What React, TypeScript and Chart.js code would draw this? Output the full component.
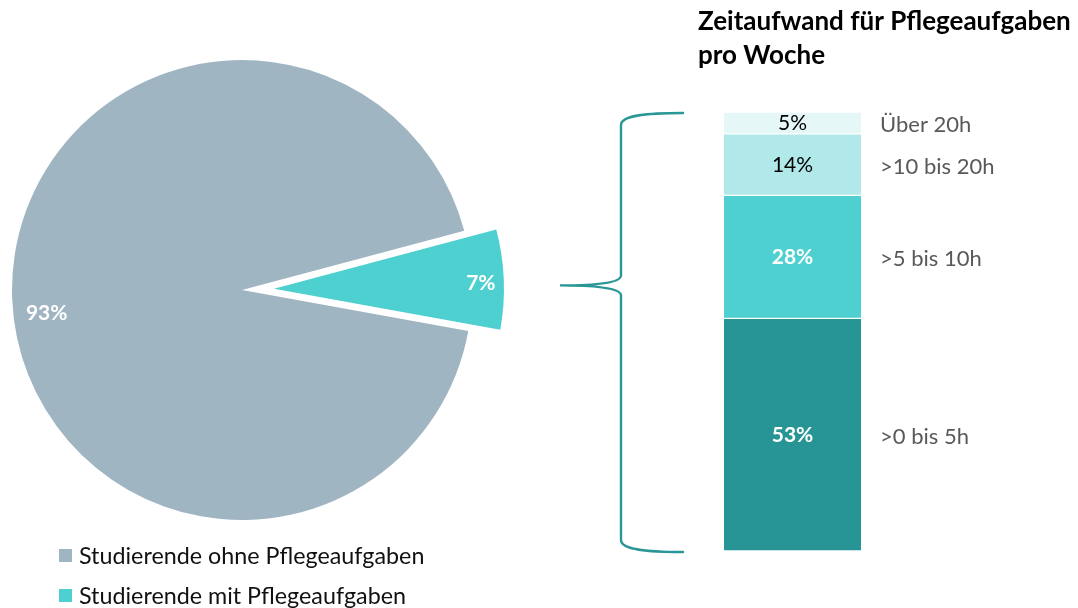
import React, { useEffect, useRef } from "react";
import { Chart, registerables } from "chart.js";

Chart.register(...registerables);

// ---------- data ----------
const pieLabels = ["Studierende ohne Pflegeaufgaben", "Studierende mit Pflegeaufgaben"];
const pieValues = [93, 7];
const pieValueLabels = ["93%", "7%"];
const pieColors = ["#A0B5C2", "#4ECFD0"];
const pieExplode = [0, 32];
const pieSmallSliceMidDeg = -2.3; // direction of the exploded slice (0 = 3 o'clock)

const barCategories = [">0 bis 5h", ">5 bis 10h", ">10 bis 20h", "Über 20h"];
const barValues = [53, 28, 14, 5];
const barValueLabels = ["53%", "28%", "14%", "5%"];
const barColors = ["#279495", "#4ECFD0", "#B1E8EA", "#E6F7F7"];
const barLabelColors = ["#FFFFFF", "#FFFFFF", "#000000", "#000000"];
const barLabelBold = [true, true, false, false];

const titleLines = ["Zeitaufwand für Pflegeaufgaben", "pro Woche"];

const FONT = "Lato, 'Open Sans', sans-serif";
const BRACE_COLOR = "#2A9696";
const CAT_COLOR = "#595959";

// ---------- plugins ----------
// pulls slices outward by a fixed distance (keeps the slice radius unchanged)
const explodePlugin = {
  id: "explode",
  beforeDatasetsDraw(chart: any) {
    const meta = chart.getDatasetMeta(0);
    meta.data.forEach((arc: any, i: number) => {
      const d = pieExplode[i] || 0;
      if (!d || arc.__exploded) return;
      const orig = arc.draw.bind(arc);
      arc.draw = (ctx: CanvasRenderingContext2D) => {
        const mid = (arc.startAngle + arc.endAngle) / 2;
        ctx.save();
        ctx.translate(Math.cos(mid) * d, Math.sin(mid) * d);
        orig(ctx);
        ctx.restore();
      };
      arc.__exploded = true;
    });
  },
};

const pieLabelPlugin = {
  id: "pieLabels",
  afterDatasetsDraw(chart: any) {
    const ctx = chart.ctx;
    const meta = chart.getDatasetMeta(0);
    const shifts = [-4.4, 0.6];
    const fracs = [0.855, 0.9];
    ctx.save();
    ctx.font = `bold 21px ${FONT}`;
    ctx.fillStyle = "#FFFFFF";
    ctx.textAlign = "center";
    ctx.textBaseline = "alphabetic";
    meta.data.forEach((arc: any, i: number) => {
      const p = arc.getProps(["x", "y", "startAngle", "endAngle", "outerRadius"], true);
      const mid = (p.startAngle + p.endAngle) / 2;
      const off = pieExplode[i] || 0;
      const cx = p.x + Math.cos(mid) * off;
      const cy = p.y + Math.sin(mid) * off;
      const a = mid + (shifts[i] * Math.PI) / 180;
      const r = p.outerRadius * fracs[i];
      const x = cx + Math.cos(a) * r;
      const y = cy + Math.sin(a) * r;
      ctx.fillText(pieValueLabels[i], x, y + 7.5);
    });
    ctx.restore();
  },
};

const barDecorPlugin = {
  id: "barDecor",
  afterDatasetsDraw(chart: any) {
    const ctx = chart.ctx;
    const area = chart.chartArea;
    ctx.save();

    // values inside the segments and category names to the right
    chart.data.datasets.forEach((_ds: any, i: number) => {
      const bar: any = chart.getDatasetMeta(i).data[0];
      const p = bar.getProps(["x", "y", "base"], true);
      const cy = (p.y + p.base) / 2;
      ctx.font = `${barLabelBold[i] ? "bold " : ""}21px ${FONT}`;
      ctx.fillStyle = barLabelColors[i];
      ctx.textAlign = "center";
      ctx.textBaseline = "alphabetic";
      ctx.fillText(barValueLabels[i], p.x, cy + 7.5);

      ctx.font = `22px ${FONT}`;
      ctx.fillStyle = CAT_COLOR;
      ctx.textAlign = "left";
      ctx.fillText(barCategories[i], area.right + 19, cy + 9.5);
    });

    // title
    ctx.font = `bold 26px ${FONT}`;
    ctx.fillStyle = "#000000";
    ctx.textAlign = "left";
    titleLines.forEach((t, k) => ctx.fillText(t, area.left - 26, 30 + k * 34));

    // curly brace
    const top = area.top + 1;
    const bot = area.bottom + 1;
    const endX = area.left - 41;
    const spineX = area.left - 103;
    const tipX = area.left - 164;
    const tipY = area.top + (area.bottom - area.top) * 0.395;
    ctx.strokeStyle = BRACE_COLOR;
    ctx.lineWidth = 2.4;
    ctx.lineCap = "round";
    ctx.beginPath();
    ctx.moveTo(endX, top);
    ctx.bezierCurveTo(endX - 35, top, spineX, top + 2, spineX, top + 12);
    ctx.lineTo(spineX, tipY - 10);
    ctx.bezierCurveTo(spineX, tipY - 2, tipX + 30, tipY, tipX, tipY);
    ctx.bezierCurveTo(tipX + 30, tipY, spineX, tipY + 2, spineX, tipY + 10);
    ctx.lineTo(spineX, bot - 12);
    ctx.bezierCurveTo(spineX, bot - 2, endX - 35, bot, endX, bot);
    ctx.stroke();

    ctx.restore();
  },
};

// ---------- components ----------
function PieChart() {
  const ref = useRef<HTMLCanvasElement>(null);
  useEffect(() => {
    if (!ref.current) return;
    const total = pieValues.reduce((a, b) => a + b, 0);
    const rotation = 90 + pieSmallSliceMidDeg - ((pieValues[0] + pieValues[1] / 2) / total) * 360;
    const chart = new Chart(ref.current, {
      type: "pie",
      data: {
        labels: pieLabels,
        datasets: [
          {
            data: pieValues,
            backgroundColor: pieColors,
            borderWidth: 0,
          },
        ],
      },
      options: {
        animation: false,
        responsive: false,
        rotation,
        layout: { padding: { left: 16, right: 44, top: 16, bottom: 16 } },
        plugins: { legend: { display: false }, tooltip: { enabled: false } },
      },
      plugins: [explodePlugin, pieLabelPlugin],
    } as any);
    return () => chart.destroy();
  }, []);
  return (
    <canvas
      ref={ref}
      width={520}
      height={492}
      style={{ position: "absolute", left: -4, top: 44, width: 520, height: 492 }}
    />
  );
}

function BarChart() {
  const ref = useRef<HTMLCanvasElement>(null);
  useEffect(() => {
    if (!ref.current) return;
    const chart = new Chart(ref.current, {
      type: "bar",
      data: {
        labels: [""],
        datasets: barCategories.map((c, i) => ({
          label: c,
          data: [barValues[i]],
          backgroundColor: barColors[i],
          borderColor: "#FFFFFF",
          borderWidth: { top: 1, bottom: 1, left: 0, right: 0 },
          borderSkipped: false,
          barPercentage: 1,
          categoryPercentage: 1,
        })),
      },
      options: {
        animation: false,
        responsive: false,
        layout: { padding: { left: 184, right: 217, top: 112, bottom: 57 } },
        scales: {
          x: { display: false, stacked: true },
          y: { display: false, stacked: true, min: 0, max: 100 },
        },
        plugins: { legend: { display: false }, tooltip: { enabled: false } },
      },
      plugins: [barDecorPlugin],
    } as any);
    return () => chart.destroy();
  }, []);
  return (
    <canvas
      ref={ref}
      width={538}
      height={608}
      style={{ position: "absolute", left: 540, top: 0, width: 538, height: 608 }}
    />
  );
}

function Legend() {
  return (
    <div style={{ position: "absolute", left: 59, top: 535, fontFamily: FONT, fontSize: 23.3, color: "#111" }}>
      {pieLabels.map((l, i) => (
        <div key={l} style={{ display: "flex", alignItems: "center", height: 40 }}>
          <span
            style={{ display: "inline-block", width: 13, height: 13, background: pieColors[i], marginRight: 7, flex: "none" }}
          />
          <span style={{ whiteSpace: "nowrap" }}>{l}</span>
        </div>
      ))}
    </div>
  );
}

export default function App() {
  useEffect(() => {
    document.body.style.margin = "0";
  }, []);
  return (
    <div style={{ position: "absolute", left: 0, top: 0, width: 1078, height: 608, overflow: "hidden", background: "#fff" }}>
      <PieChart />
      <BarChart />
      <Legend />
    </div>
  );
}
